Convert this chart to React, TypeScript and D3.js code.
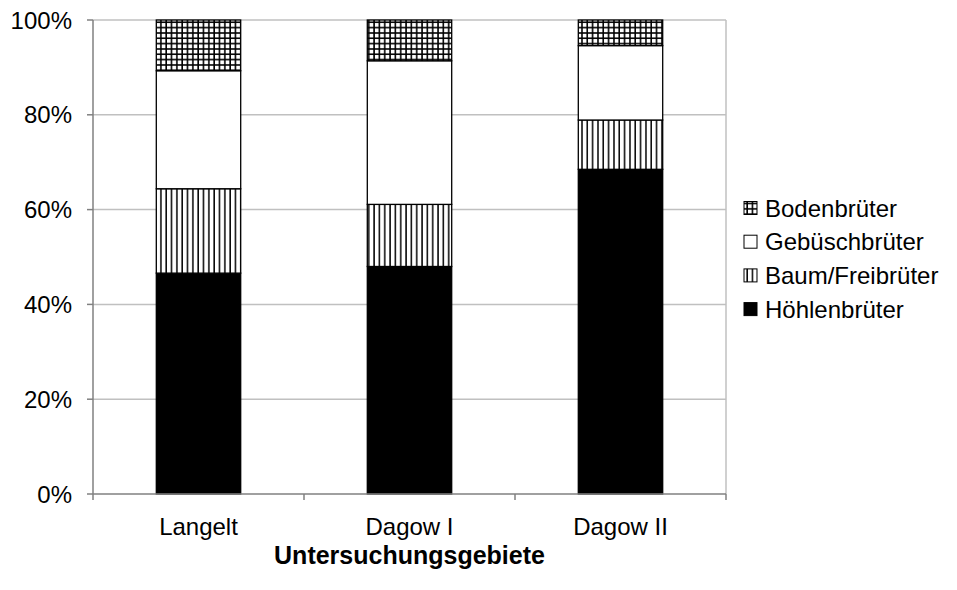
import { scaleBand, scaleLinear, stack } from 'd3'

const categories = ['Langelt', 'Dagow I', 'Dagow II']
const hoehlen = [46.6, 48.0, 68.5]
const baum = [17.8, 13.1, 10.4]
const gebuesch = [24.9, 30.3, 15.7]
const boden = [10.7, 8.6, 5.4]
const yTicks = [0, 20, 40, 60, 80, 100]

const seriesKeys = ['hoehlen', 'baum', 'gebuesch', 'boden']
const legendItems = [
    { key: 'boden', label: 'Bodenbrüter' },
    { key: 'gebuesch', label: 'Gebüschbrüter' },
    { key: 'baum', label: 'Baum/Freibrüter' },
    { key: 'hoehlen', label: 'Höhlenbrüter' }
]

const fills: Record<string, string> = {
    hoehlen: '#000',
    baum: 'url(#vlines)',
    gebuesch: '#fff',
    boden: 'url(#grid)'
}

const width = 957
const height = 590
const margin = { top: 20, right: 231, bottom: 96, left: 93 }
const font = '"Liberation Sans", Arial, sans-serif'

export default function App() {
    const rows = categories.map((c, i) => ({
        cat: c,
        hoehlen: hoehlen[i],
        baum: baum[i],
        gebuesch: gebuesch[i],
        boden: boden[i]
    }))
    const stacked = stack<any>().keys(seriesKeys)(rows)

    const x = scaleBand()
        .domain(categories)
        .range([margin.left, width - margin.right])
        .paddingInner(0.6)
        .paddingOuter(0.3)

    const y = scaleLinear()
        .domain([0, 100])
        .range([height - margin.bottom, margin.top])

    const x0 = margin.left
    const x1 = width - margin.right
    const yBase = y(0)
    const step = x.step()
    const catTicks = [0, 1, 2, 3].map(i => x0 + i * step)

    return (
        <svg width={width} height={height} style={{ display: 'block', position: 'absolute', left: 0, top: 0 }}>
            <defs>
                <pattern id="vlines" patternUnits="userSpaceOnUse" width={5.33} height={10}>
                    <rect width={5.33} height={10} fill="#fff" />
                    <line x1={1} x2={1} y1={0} y2={10} stroke="#000" strokeWidth={1.5} />
                </pattern>
                <pattern id="grid" patternUnits="userSpaceOnUse" width={5.33} height={5.33}>
                    <rect width={5.33} height={5.33} fill="#fff" />
                    <line x1={1} x2={1} y1={0} y2={5.33} stroke="#000" strokeWidth={1.6} />
                    <line x1={0} x2={5.33} y1={1} y2={1} stroke="#000" strokeWidth={1.6} />
                </pattern>
            </defs>
            <rect width={width} height={height} fill="#fff" />

            {yTicks.filter(t => t > 0).map(t => (
                <line key={t} x1={x0} x2={x1} y1={y(t)} y2={y(t)} stroke="#c0c0c0" strokeWidth={1.5} />
            ))}
            <line x1={x1} x2={x1} y1={margin.top} y2={yBase} stroke="#c0c0c0" strokeWidth={1.5} />

            {stacked.map(s => s.map((d, i) => (
                <rect
                    key={s.key + i}
                    x={x(categories[i])}
                    width={x.bandwidth()}
                    y={y(d[1])}
                    height={y(d[0]) - y(d[1])}
                    fill={fills[s.key]}
                    stroke="#000"
                    strokeWidth={1.3}
                />
            )))}

            <line x1={x0} x2={x0} y1={margin.top} y2={yBase} stroke="#808080" strokeWidth={1.5} />
            <line x1={x0} x2={x1} y1={yBase} y2={yBase} stroke="#808080" strokeWidth={1.5} />
            {yTicks.map(t => (
                <g key={t}>
                    <line x1={x0 - 6} x2={x0} y1={y(t)} y2={y(t)} stroke="#808080" strokeWidth={1.5} />
                    <text x={72} y={y(t)} dy="0.36em" textAnchor="end" fontFamily={font} fontSize={24} fill="#000">
                        {t}%
                    </text>
                </g>
            ))}
            {catTicks.map((cx, i) => (
                <line key={i} x1={cx} x2={cx} y1={yBase} y2={yBase + 6} stroke="#808080" strokeWidth={1.5} />
            ))}
            {categories.map(c => (
                <text key={c} x={x(c) + x.bandwidth() / 2} y={535} textAnchor="middle" fontFamily={font} fontSize={24} fill="#000">
                    {c}
                </text>
            ))}
            <text x={(x0 + x1) / 2} y={555} dy="0.36em" textAnchor="middle" fontFamily={font} fontSize={25} fontWeight="bold" fill="#000">
                Untersuchungsgebiete
            </text>

            {legendItems.map((it, i) => {
                const cy = 208 + i * 33.7
                return (
                    <g key={it.key}>
                        <rect x={744} y={cy - 6.5} width={13} height={13} fill={fills[it.key]} stroke="#000" strokeWidth={1} />
                        <text x={765} y={cy} dy="0.36em" fontFamily={font} fontSize={24} fill="#000">
                            {it.label}
                        </text>
                    </g>
                )
            })}
        </svg>
    )
}
